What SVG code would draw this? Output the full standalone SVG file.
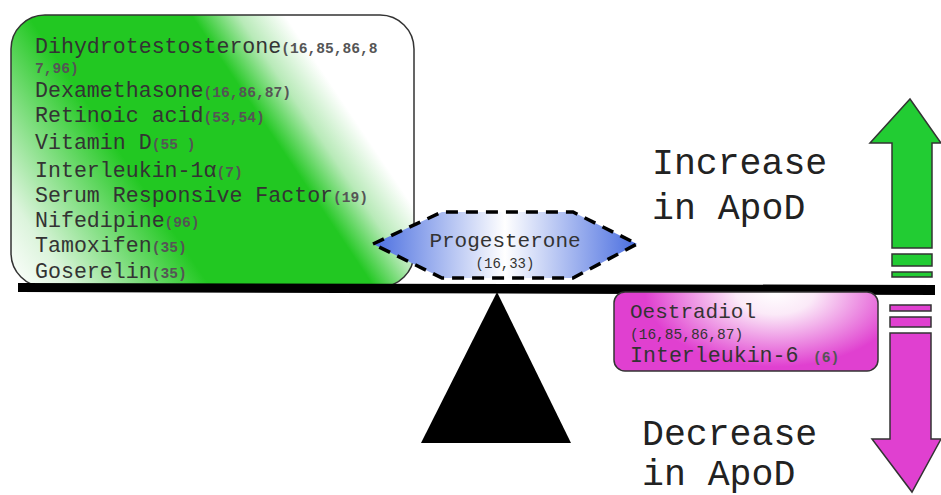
<svg xmlns="http://www.w3.org/2000/svg" width="941" height="495" viewBox="0 0 941 495">
<style>
.m{font-family:"Liberation Mono","Courier New",monospace;fill:#333}
.big{font-size:21.6px}
.ref{font-size:14.6px;font-weight:bold;fill:#555}
.lab{font-family:"Liberation Mono","Courier New",monospace;font-size:36.5px;fill:#222}
.ol{stroke:#333;stroke-width:1.5}
</style>
<defs>
<linearGradient id="gG" gradientUnits="userSpaceOnUse" x1="11" y1="285" x2="413" y2="15">
<stop offset="0" stop-color="#ffffff"/>
<stop offset="0.1" stop-color="#dcf4dc"/>
<stop offset="0.34" stop-color="#22c822"/>
<stop offset="0.62" stop-color="#22c822"/>
<stop offset="0.7" stop-color="#b8eab8"/>
<stop offset="0.78" stop-color="#ffffff"/>
<stop offset="1" stop-color="#ffffff"/>
</linearGradient>
<radialGradient id="gM" gradientUnits="userSpaceOnUse" cx="775" cy="292" r="100" gradientTransform="translate(775,292) scale(1.3,0.75) translate(-775,-292)">
<stop offset="0" stop-color="#ffffff"/>
<stop offset="0.3" stop-color="#fbeaf8"/>
<stop offset="1" stop-color="#e040d0"/>
</radialGradient>
<linearGradient id="gB" x1="0" y1="0" x2="1" y2="0">
<stop offset="0" stop-color="#4a6ee0"/>
<stop offset="0.5" stop-color="#ffffff"/>
<stop offset="1" stop-color="#4a6ee0"/>
</linearGradient>
</defs>

<g id="increasers">
<rect x="11" y="15" width="403" height="272" rx="34" fill="url(#gG)" stroke="#333" stroke-width="1.5"/>
<text class="m big" x="35" y="53">Dihydrotestosterone<tspan class="ref">(16,85,86,8</tspan></text>
<text class="m ref" x="35" y="73">7,96)</text>
<text class="m big" x="35" y="97">Dexamethasone<tspan class="ref">(16,86,87)</tspan></text>
<text class="m big" x="35" y="122">Retinoic acid<tspan class="ref">(53,54)</tspan></text>
<text class="m big" x="35" y="149">Vitamin D<tspan class="ref">(55 )</tspan></text>
<text class="m big" x="35" y="177">Interleukin-1α<tspan class="ref">(7)</tspan></text>
<text class="m big" x="35" y="202">Serum Responsive Factor<tspan class="ref">(19)</tspan></text>
<text class="m big" x="35" y="227">Nifedipine<tspan class="ref">(96)</tspan></text>
<text class="m big" x="35" y="252">Tamoxifen<tspan class="ref">(35)</tspan></text>
<text class="m big" x="35" y="278">Goserelin<tspan class="ref">(35)</tspan></text>
</g>

<g id="connectors">
<polygon id="beam" points="18,283 935,285 935,295 18,292" fill="#000"/>
<polygon id="fulcrum" points="497,292 571,443 421,443" fill="#000"/>
</g>

<g id="progesterone">
<polygon points="373,244 442,212 573,212 637,244 573,278 442,278" fill="url(#gB)" stroke="#000" stroke-width="3.5" stroke-dasharray="12,8"/>
<text class="m" x="505" y="247" text-anchor="middle" font-size="21" fill="#3a3a3a">Progesterone</text>
<text class="m" x="505" y="268" text-anchor="middle" font-size="14" fill="#555">(16,33)</text>
</g>

<g id="decreasers">
<rect x="614" y="292" width="264" height="79" rx="11" fill="url(#gM)" stroke="#333" stroke-width="1.5"/>
<text class="m" x="630" y="318" font-size="21">Oestradiol</text>
<text class="m" x="630" y="339" font-size="14.5" fill="#555">(16,85,86,87)</text>
<text class="m big" x="630" y="362">Interleukin-6<tspan class="ref" x="813">(6)</tspan></text>
</g>

<g id="increase-arrow">
<polygon class="ol" points="910,99 941,143 932,143 932,248 892,248 892,143 870,143" fill="#22cc33"/>
<rect class="ol" x="892" y="254" width="40" height="12" fill="#22cc33"/>
<rect class="ol" x="892" y="272" width="40" height="5" fill="#22cc33"/>
</g>

<g id="decrease-arrow">
<rect class="ol" x="890" y="305" width="41" height="6" fill="#e040d0"/>
<rect class="ol" x="890" y="317" width="41" height="10" fill="#e040d0"/>
<polygon class="ol" points="890,333 931,333 931,439 941,439 912,492 872,439 890,439" fill="#e040d0"/>
</g>

<g id="labels">
<text class="lab" x="652" y="174">Increase</text>
<text class="lab" x="652" y="219">in ApoD</text>
<text class="lab" x="642" y="445">Decrease</text>
<text class="lab" x="642" y="485">in ApoD</text>
</g>
</svg>
